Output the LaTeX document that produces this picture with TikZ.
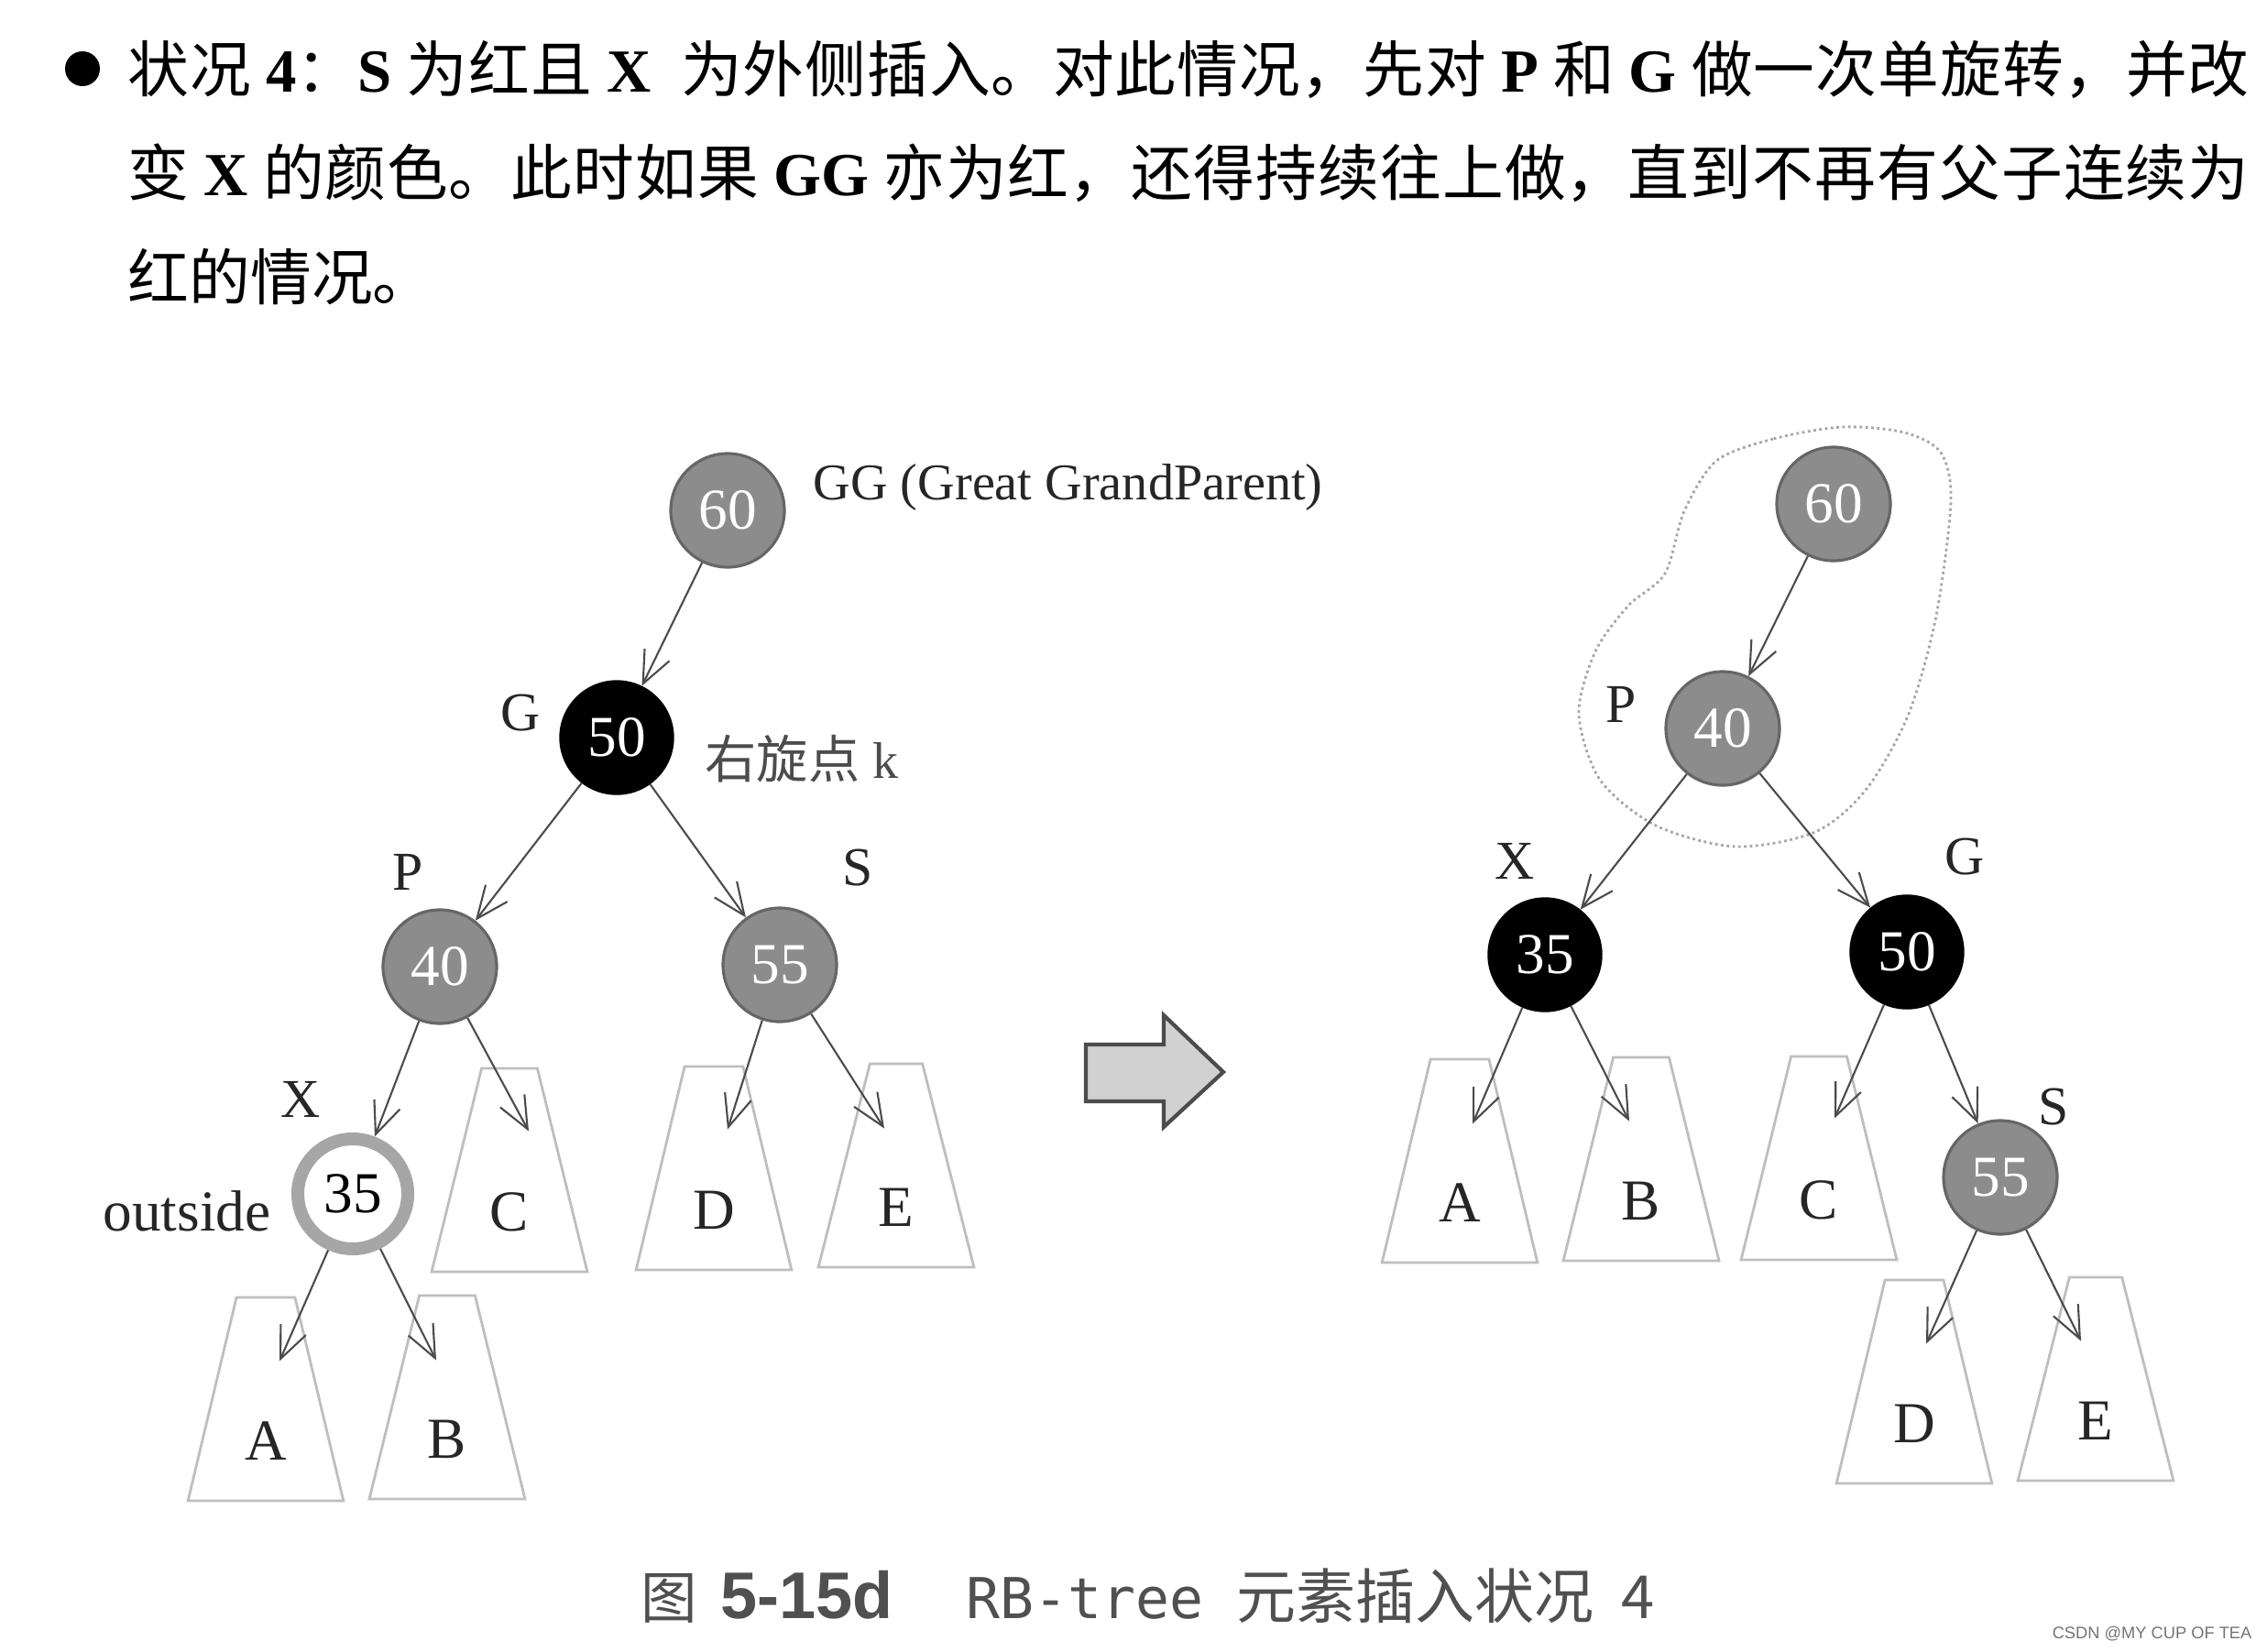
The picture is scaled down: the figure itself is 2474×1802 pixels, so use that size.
\documentclass[tikz,border=0pt]{standalone}
\usepackage{fontspec}
\setmainfont{Liberation Serif}
\setsansfont{Liberation Sans}
\setmonofont{DejaVu Sans Mono}
\newfontfamily\cjk{Noto Sans CJK SC}
\usetikzlibrary{positioning,arrows.meta,calc,shapes.geometric}
\XeTeXlinebreaklocale "zh"
\XeTeXlinebreakskip=0pt plus 2pt minus 0.4pt
\definecolor{rbred}{RGB}{140,140,140}
\definecolor{rbline}{RGB}{75,75,75}
\definecolor{rbsub}{RGB}{190,190,190}
\definecolor{rbcap}{RGB}{80,80,80}
\newcommand{\en}[1]{{\rmfamily\bfseries #1}}
\newcommand{\numfont}{\fontsize{18}{18}\selectfont}
\newcommand{\lblfont}{\fontsize{17}{17}\selectfont}

\begin{document}
\begin{tikzpicture}[x=0.1mm,y=-0.1mm,
  rnode/.style={circle,draw=black!60,fill=rbred,text=white,line width=0.9pt,minimum size=12.4mm,inner sep=0pt,font=\numfont},
  bnode/.style={circle,draw=black,fill=black,text=white,minimum size=12.4mm,inner sep=0pt,font=\numfont},
  xnode/.style={circle,draw=black!35,fill=white,line width=4pt,minimum size=12mm,inner sep=0pt,font=\numfont},
  sub/.style={trapezium,trapezium left angle=74,trapezium right angle=74,trapezium stretches=true,
    minimum width=17mm,minimum height=22.2mm,draw=rbsub,line width=0.8pt,inner sep=0pt,
    text height=13.2mm,text depth=0pt,font=\fontsize{18}{18}\selectfont,text=black!85},
  lbl/.style={inner sep=0pt,font=\lblfont,text=black!85},
  link/.style={draw=rbline,line width=0.6pt,-{Straight Barb[length=3.5mm,width=3mm]}},
  blob/.style={draw=black!35,densely dotted,line width=0.8pt},
  turn/.style={fill=black!18,draw=black!70,line width=1.2pt,line join=miter}]
\useasboundingbox (0,0) rectangle (2474,1802);

\node[circle,fill=black,minimum size=3.8mm,inner sep=0pt] (dot) at (90,75) {};
\node[anchor=base west,inner sep=0pt,text width=231.5mm,align=justify,
  font=\cjk\fontsize{19}{32.3}\selectfont] (intro) at (139,100)
  {状况 \en{4}：\en{S} 为红且 \en{X}\ \ 为外侧插入。对此情况，先对 \en{P} 和 \en{G} 做一次单旋转，并改\linebreak
   变 \en{X} 的颜色。此时如果 \en{GG} 亦为红，还得持续往上做，直到不再有父子连续为\linebreak
   红的情况。};

\node[sub] (tA) at (290,1527) {A};
\node[sub] (tB) at (488,1525) {B};
\node[sub] (tC) at (556,1277) {C};
\node[sub] (tD) at (779,1275) {D};
\node[sub] (tE) at (978,1272) {E};
\node[rnode] (gg) at (794,557) {60};
\node[bnode] (g) at (673,805) {50};
\node[rnode] (p) at (480,1055) {40};
\node[rnode] (s) at (851,1053) {55};
\node[xnode,text=black] (x) at (385,1303) {35};
\node[lbl,anchor=west,font=\fontsize{16}{16}\selectfont] (ggtxt) at (887,532) {GG (Great GrandParent)};
\node[lbl] (gtxt) at (568,778) {G};
\node[lbl,anchor=west,font=\fontsize{16}{16}\selectfont,text=black!70] (ktxt) at (769,828) {{\cjk 右旋点} k};
\node[lbl] (ptxt) at (445,952) {P};
\node[lbl] (stxt) at (936,947) {S};
\node[lbl] (xtxt) at (328,1200) {X};
\node[lbl,anchor=east,font=\fontsize{18}{18}\selectfont] (otxt) at (296,1322) {outside};
\draw[link] (gg) -- (g);
\draw[link] (g) -- (p);
\draw[link] (g) -- (s);
\draw[link] (p) -- (x);
\draw[link] (p) -- ($(tC.north)+(21,70)$);
\draw[link] (s) -- ($(tD.north)+(15,70)$);
\draw[link] (s) -- ($(tE.north)+(-13,72)$);
\draw[link] (x) -- ($(tA.north)+(15,71)$);
\draw[link] (x) -- ($(tB.north)+(-12,72)$);

\draw[turn] (1185,1140) -- (1270,1140) -- (1270,1108) -- (1335,1170) -- (1270,1230) -- (1270,1202) -- (1185,1202) -- cycle;

\draw[blob] plot[smooth cycle] coordinates {(2011,466) (1935,479) (1873,503) (1838,558) (1817,626) (1777,661)
  (1741,711) (1723,779) (1746,851) (1807,901) (1894,924) (1981,908) (2037,861) (2083,779) (2113,672)
  (2129,547) (2118,494) (2078,472)};
\node[sub] (tA2) at (1593,1267) {A};
\node[sub] (tB2) at (1791,1265) {B};
\node[sub] (tC2) at (1985,1264) {C};
\node[sub] (tD2) at (2089,1508) {D};
\node[sub] (tE2) at (2287,1505) {E};
\node[rnode] (gg2) at (2001,550) {60};
\node[rnode] (p2) at (1880,795) {40};
\node[bnode] (x2) at (1686,1042) {35};
\node[bnode] (g2) at (2081,1039) {50};
\node[rnode] (s2) at (2183,1285) {55};
\node[lbl] (ptxt2) at (1769,769) {P};
\node[lbl] (xtxt2) at (1653,940) {X};
\node[lbl] (gtxt2) at (2144,935) {G};
\node[lbl] (stxt2) at (2241,1208) {S};
\draw[link] (gg2) -- (p2);
\draw[link] (p2) -- (x2);
\draw[link] (p2) -- (g2);
\draw[link] (g2) -- (s2);
\draw[link] (x2) -- ($(tA2.north)+(14,72)$);
\draw[link] (x2) -- ($(tB2.north)+(-13,71)$);
\draw[link] (g2) -- ($(tC2.north)+(17,69)$);
\draw[link] (s2) -- ($(tD2.north)+(13,71)$);
\draw[link] (s2) -- ($(tE2.north)+(-16,71)$);

\node[anchor=base west,inner sep=0pt,text=rbcap] (cap) at (699,1766)
  {{\cjk\fontsize{17.5}{17.5}\selectfont 图}\hspace{2.5mm}{\sffamily\bfseries\fontsize{20.5}{20.5}\selectfont 5-15d}\hspace{8mm}{\ttfamily\fontsize{17.5}{17.5}\selectfont RB-tree}\hspace{3.6mm}{\cjk\fontsize{18.5}{18.5}\selectfont 元素插入状况}\hspace{3mm}{\cjk\fontsize{18.5}{18.5}\selectfont 4}};
\node[anchor=east,inner sep=0pt,text=black!55,font=\sffamily\fontsize{5.2}{5.2}\selectfont] (mark) at (2458,1783) {CSDN @MY CUP OF TEA};
\end{tikzpicture}
\end{document}
